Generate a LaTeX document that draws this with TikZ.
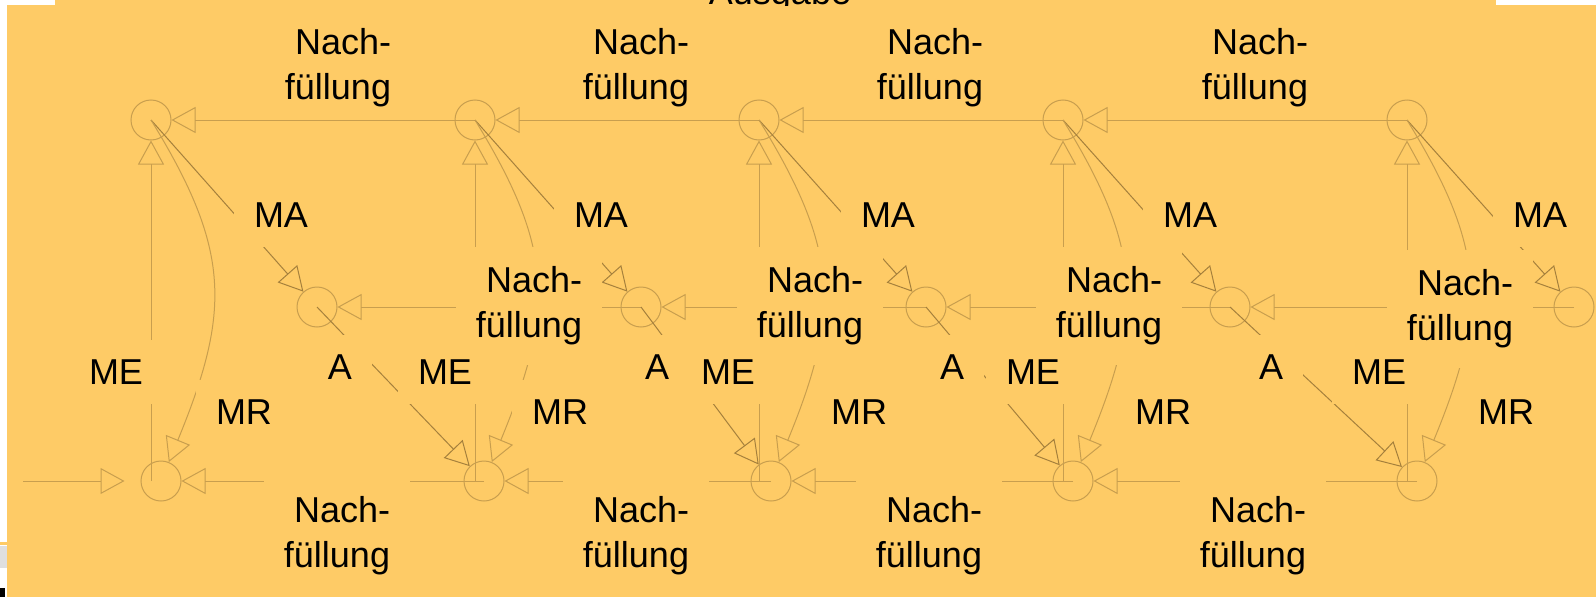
\documentclass[tikz,border=0pt]{standalone}
\usepackage{fontspec}
\setmainfont{Liberation Sans}
\usetikzlibrary{arrows.meta}

\definecolor{bg}{RGB}{254,203,102}
\definecolor{ln}{RGB}{200,158,78}
\definecolor{lnd}{RGB}{165,128,60}

\begin{document}
\begin{tikzpicture}[x=1pt,y=-1pt,line width=1pt,
    knot/.style={circle,draw=ln,minimum size=40pt,inner sep=0pt},
    arr/.style={draw=ln,-{Triangle[open,length=24pt,width=26pt]}},
    lbl/.style={font=\fontsize{36}{45}\selectfont,align=right,inner sep=20pt},
    cover/.style={lbl,fill=bg}]

    % background with the white edges
    \useasboundingbox (0,0) rectangle (1596,597);
    \clip (0,0) rectangle (1596,597);
    \fill[white] (0,0) rectangle (1596,597);
    \fill[bg] (7,0) rectangle (1596,597);
    \fill[white] (7,0) rectangle (55,5);
    \fill[white] (1496,0) rectangle (1596,5);
    \fill[bg] (0,542) rectangle (7,545);
    \fill[gray!25] (0,546) rectangle (7,568);
    \fill[black] (0,588) rectangle (5,597);

    % title, cut off at the top
    \begin{scope}
        \clip (0,0) rectangle (1596,5);
        \node[lbl,inner sep=0pt,anchor=base] (out) at (780,5) {Ausgabe};
    \end{scope}

    % circles
    \foreach \n/\x in {1/151,2/475,3/759,4/1063,5/1407}
        \node[knot] (C\n) at (\x,120) {};
    \foreach \n/\x in {1/317,2/641,3/926,4/1230,5/1574}
        \node[knot] (M\n) at (\x,307) {};
    \foreach \n/\x in {1/161,2/484,3/771,4/1073,5/1417}
        \node[knot] (B\n) at (\x,481) {};
    \coordinate (in) at (23,481);

    % refills from right to left, and A
    \foreach \n/\m in {1/2,2/3,3/4,4/5} {
        \draw[arr] (C\m.center) -- (C\n);
        \draw[arr] (M\m.center) -- (M\n);
        \draw[arr] (B\m.center) -- (B\n);
        \draw[arr,draw=lnd] (M\n.center) -- (B\m);
    }
    \draw[arr,shorten >=16pt] (in) -- (B1);

    % ME, MA, MR
    \foreach \n in {1,...,5} {
        \draw[arr] (C\n |- B\n) -- (C\n);
        \draw[arr,draw=lnd] (C\n.center) -- (M\n);
        \draw[arr] (C\n.center) .. controls +(80,130) and +(70,-170) .. (B\n);
    }

    % labels
    \foreach \x [count=\i] in {338,636,930,1255}
        \node[lbl] (refT\i) at (\x,68) {Nach-\\füllung};
    \foreach \x/\y [count=\i] in {529/306,810/306,1109/306,1460/309}
        \node[cover] (refM\i) at (\x,\y) {Nach-\\füllung};
    \foreach \x [count=\i] in {337,636,929,1253}
        \node[cover] (refB\i) at (\x,536) {Nach-\\füllung};
    \foreach \x [count=\i] in {281,601,888,1190,1540}
        \node[cover] (ma\i) at (\x,215) {MA};
    \foreach \x [count=\i] in {340,657,952,1271}
        \node[cover] (a\i) at (\x,367) {A};
    \foreach \x [count=\i] in {116,445,728,1033,1379}
        \node[cover] (me\i) at (\x,372) {ME};
    \foreach \x [count=\i] in {244,560,859,1163,1506}
        \node[cover] (mr\i) at (\x,412) {MR};

\end{tikzpicture}
\end{document}
